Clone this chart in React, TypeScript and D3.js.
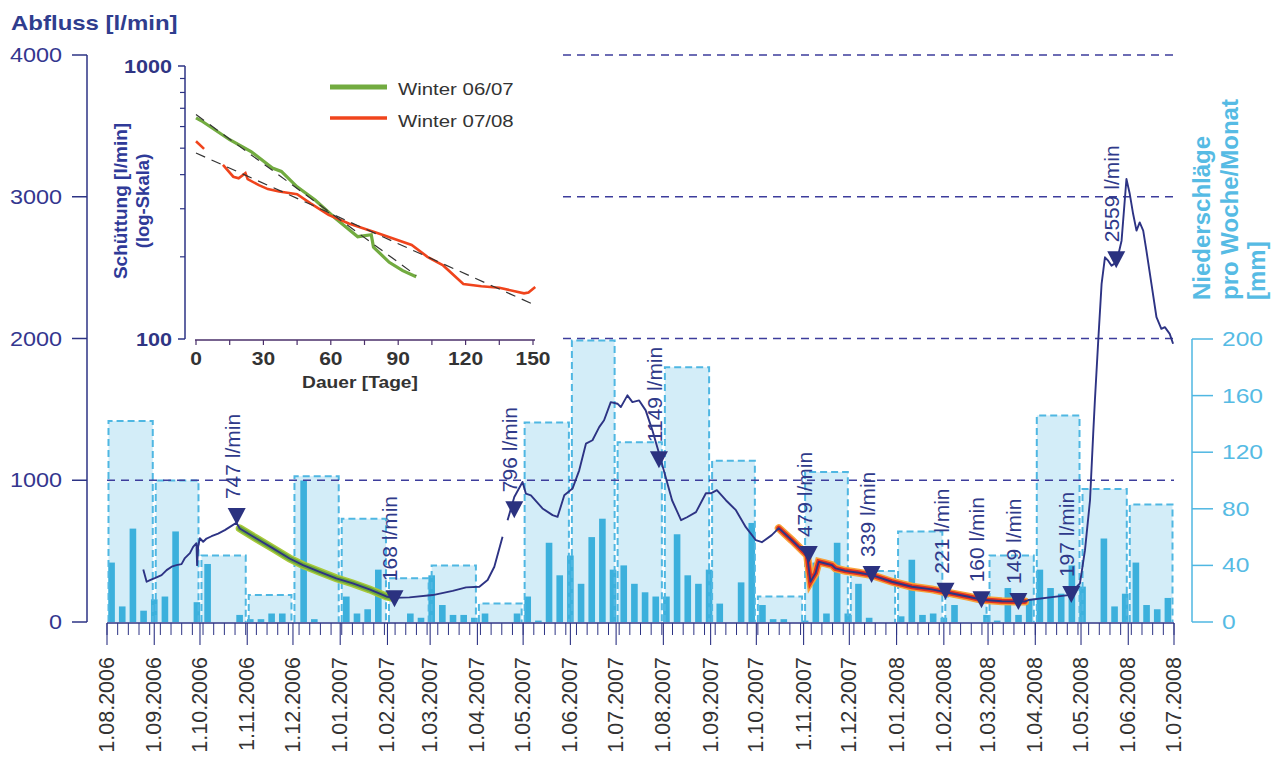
import React from 'react';
import * as d3 from 'd3';

// ---------- DATA ----------
const START = new Date(2006, 7, 1);
const END = new Date(2008, 6, 1);

const monthLabels = [
  '1.08.2006', '1.09.2006', '1.10.2006', '1.11.2006', '1.12.2006', '1.01.2007',
  '1.02.2007', '1.03.2007', '1.04.2007', '1.05.2007', '1.06.2007', '1.07.2007',
  '1.08.2007', '1.09.2007', '1.10.2007', '1.11.2007', '1.12.2007', '1.01.2008',
  '1.02.2008', '1.03.2008', '1.04.2008', '1.05.2008', '1.06.2008', '1.07.2008',
];

// monthly precipitation [mm], Aug 2006 .. Jun 2008
const monthlyPrecip = [142, 100, 47, 19, 103, 73, 31, 40, 13, 141, 199, 127, 180, 114, 18, 106, 36, 64, 18, 47, 146, 94, 83];

// weekly precipitation [mm], weeks starting 1.08.2006
const weeklyPrecip = [
  42, 11, 66, 8, 16, 18, 64, 0, 14, 41,
  0, 0, 5, 2, 2, 6, 6, 0, 100, 2,
  0, 0, 18, 6, 9, 37, 0, 0, 6, 3,
  33, 12, 5, 5, 3, 6, 0, 0, 6, 18,
  1, 56, 33, 47, 27, 60, 73, 37, 40, 27,
  21, 18, 18, 62, 33, 27, 37, 13, 0, 28,
  70, 12, 2, 2, 0, 1, 42, 6, 56, 6,
  27, 3, 0, 0, 4, 44, 5, 6, 3, 12,
  0, 0, 5, 1, 24, 5, 16, 37, 24, 20,
  40, 25, 0, 59, 11, 20, 42, 12, 9, 17,
];

// discharge [l/min]; day = days since 1.08.2006 (null = data gap)
const flowDay = [
  23.8, 26, 28.2, 31.4, 35.8, 39.1, 42.4, 45.6, 48.9, 51.1, 54.4, 56.5, 58.7, 59.1, 59.8, 60.9,
  63.1, 65.3, 68.6, 72.9, 77.3, 81.7, 84.9, 87.1, 98, 108.9, 119.8, 128.6, 139.5, 150.4, 161.3,
  172.2, 183.2, 187.5, 198.4, 213.7, 226.8, 235.6, 244.3, 249.7, 254.1, 259.5, 261, 262.8, 267.2,
  272.6, 274.8, 278.1, 285.7, 292.3, 295.6, 300, 305.4, 309.8, 314.2, 318.5, 322.9, 326.1, 330.5,
  334.9, 337.1, 341.4, 344.7, 349.1, 353.4, 357.8, 362.2, 366.5, 370.7, 376.6, 380.5, 386.4, 392.9,
  396.2, 400.1, 406, 412.6, 419.1, 425.7, 429.6, 436.1, 440.7, 449.3, 459.3, 461.5, 464.8, 466.9,
  471.3, 475.6, 477.9, 484.4, 493.1, 501.8, 514.9, 528, 541.1, 552.1, 565.2, 573.9, 587, 602.3,
  604.5, 630.7, 638.3, 641.6, 644.9, 647, 648.1, 650.3, 652.5, 654.7, 656.8, 659, 662.3, 665.6,
  668.8, 671, 673.2, 675.4, 677.5, 679.8, 681.9, 685.2, 688.5, 691.7, 694, 697.2, 699.4,
];
const flowValue: (number | null)[] = [
  371, 284, 296, 310, 331, 366, 390, 401, 408, 451, 486, 530, 556, 401, 530, 591,
  566, 589, 605, 624, 648, 678, 700, 660, 589, 519, 448, 401, 354, 308, 272,
  230, 180, 170, 174, 190, 220, 244, 249, 296, 390, 601, null, 718, 882,
  988, 906, 894, 801, 754, 742, 894, 941, 1070, 1258, 1282, 1375, 1423, 1551,
  1540, 1516, 1599, 1551, 1563, 1493, 1352, 1188, 1023, 859, 718, 739, 775, 908,
  908, 930, 859, 789, 669, 577, 563, 613, 662, 577, 472, 284, 343, 425,
  413, 401, 378, 361, 347, 331, 284, 249, 230, 206, 178, 157, 146, 145,
  155, 190, 272, 507, 859, 1329, 1563, 1986, 2385, 2573, 2549, 2514, 2537, 2690,
  3125, 3019, 2878, 2761, 2819, 2761, 2620, 2385, 2150, 2068, 2080, 2033, 1963,
];

// highlighted recession periods (days since 1.08.2006)
const recession0607 = [85, 188];
const recession0708 = [440.7, 602.3];

// annotated discharge values
const markerDay = [85.1, 188.6, 267.2, 362.1, 460.4, 501.6, 550.1, 573.7, 597.9, 632.6, 662.1];
const markerValue = [747, 168, 796, 1149, 479, 339, 221, 160, 149, 197, 2559];

const leftTicks = [0, 1000, 2000, 3000, 4000];
const rightTicks = [0, 40, 80, 120, 160, 200];

// inset: recession curves (day of recession, l/min)
const insetGreenDay = [0, 2.4, 15, 24.5, 34, 38, 45, 53, 62, 72, 78, 79, 86, 92, 98];
const insetGreenVal = [646, 630, 537, 486, 423, 411, 361, 323, 277, 237, 241, 217, 191, 178, 169];
const insetRedDay = [0, 3.6, 8, 12, 16.6, 19, 22, 23, 28, 32, 37, 45, 51, 59, 68, 81, 96, 103, 110, 119, 127, 135, 146, 148, 151];
const insetRedVal: (number | null)[] = [530, 497, null, 434, 393, 388, 405, 385, 366, 354, 347, 339, 314, 285, 265, 244, 221, 200, 186, 159, 156, 154, 147, 148, 155];
const insetFit1Day = [0, 98];
const insetFit1Val = [664, 171];
const insetFit2Day = [0, 151];
const insetFit2Val = [480, 133];
const insetXTicks = [0, 30, 60, 90, 120, 150];
const insetLegend = ['Winter 06/07', 'Winter 07/08'];

// ---------- COMPONENT ----------
const FONT = 'Liberation Sans, Arial, Helvetica, sans-serif';
const NAVY = '#2d3384';
const NAVY_TXT = '#34378f';
const CYAN = '#4fb7e2';
const CYAN_TXT = '#56bbe4';
const DAY = 86400000;
const SX = 1.2; // horizontal stretch of the scanned lettering
const dayToDate = (d: number) => new Date(START.getTime() + d * DAY);
const st = (x: number, y: number) => `translate(${x},${y}) scale(${SX},1)`;

export default function App() {
  const x = d3.scaleTime().domain([START, END]).range([107, 1174]);
  const yL = d3.scaleLinear().domain([0, 4000]).range([622, 55]);
  const yR = d3.scaleLinear().domain([0, 200]).range([622, 339]);

  const flow = flowDay.map((d, i) => ({ date: dayToDate(d), day: d, v: flowValue[i] }));
  const line = d3
    .line<{ date: Date; v: number | null }>()
    .defined((d) => d.v != null)
    .x((d) => x(d.date))
    .y((d) => yL(d.v as number));
  const seg = (r: number[]) => flow.filter((d) => d.day >= r[0] && d.day <= r[1]);

  const months = d3.timeMonth.range(START, d3.timeMonth.offset(END, 1));
  const weeks = d3.range(0, 101).map((i) => dayToDate(i * 7));
  const weekW = x(dayToDate(7)) - x(START);

  // inset scales
  const xi = d3.scaleLinear().domain([0, 150]).range([196, 533]);
  const yi = d3.scaleLog().domain([100, 1000]).range([339, 66]);
  const iline = d3
    .line<[number, number | null]>()
    .defined((d) => d[1] != null)
    .x((d) => xi(d[0]))
    .y((d) => yi(d[1] as number));
  const zip = (a: number[], b: (number | null)[]) => a.map((d, i) => [d, b[i]] as [number, number | null]);
  const minorLog = [200, 300, 400, 500, 600, 700, 800, 900];

  return (
    <svg
      width={1277}
      height={760}
      style={{ position: 'absolute', left: 0, top: 0, background: '#fff' }}
      fontFamily={FONT}
    >
      <rect width={1277} height={760} fill="#fff" />

      {/* title */}
      <text transform={st(11, 30)} fontSize={20} fontWeight="bold" fill="#2f3d8e">
        Abfluss [l/min]
      </text>

      {/* monthly precipitation boxes (fill) */}
      {monthlyPrecip.map((v, i) => {
        const x0 = x(months[i]) + 1.5;
        const x1 = x(months[i + 1]) - 1.5;
        return <rect key={'mf' + i} x={x0} y={yR(v)} width={x1 - x0} height={yR(0) - yR(v)} fill="#d3edf8" />;
      })}

      {/* weekly precipitation bars */}
      {weeklyPrecip.map((v, i) => {
        const cx = x(dayToDate(i * 7 + 3));
        const w = weekW * 0.62;
        return <rect key={'wb' + i} x={cx - w / 2} y={yR(v)} width={w} height={yR(0) - yR(v)} fill="#3cb0dc" />;
      })}

      {/* monthly box outlines */}
      {monthlyPrecip.map((v, i) => {
        const x0 = x(months[i]) + 1.5;
        const x1 = x(months[i + 1]) - 1.5;
        return (
          <path
            key={'mo' + i}
            d={`M${x0},${yR(0)}V${yR(v)}H${x1}V${yR(0)}`}
            fill="none"
            stroke={CYAN}
            strokeWidth={2}
            strokeDasharray="7,4"
          />
        );
      })}

      {/* dashed grid lines */}
      {leftTicks
        .filter((t) => t > 0)
        .map((t) => (
          <line
            key={'g' + t}
            x1={t === 1000 ? 107 : 563}
            x2={1174}
            y1={yL(t)}
            y2={yL(t)}
            stroke="#3d3d9c"
            strokeWidth={1.3}
            strokeDasharray="8,6"
          />
        ))}

      {/* left axis */}
      <line x1={87} x2={87} y1={yL(4000)} y2={yL(0)} stroke={NAVY} strokeWidth={1.5} />
      {leftTicks.map((t) => (
        <g key={'lt' + t}>
          <line x1={72} x2={87} y1={yL(t)} y2={yL(t)} stroke={NAVY} strokeWidth={1.5} />
          <text transform={st(62, yL(t) + 7)} fontSize={19.5} textAnchor="end" fill={NAVY_TXT}>
            {t}
          </text>
        </g>
      ))}

      {/* right axis */}
      <line x1={1192} x2={1192} y1={yR(200)} y2={yR(0)} stroke={CYAN} strokeWidth={1.5} />
      {rightTicks.map((t) => (
        <g key={'rt' + t}>
          <line x1={1192} x2={1213} y1={yR(t)} y2={yR(t)} stroke={CYAN} strokeWidth={1.5} />
          <text transform={st(1222, yR(t) + 7)} fontSize={20.5} fill={CYAN_TXT}>
            {t}
          </text>
        </g>
      ))}
      {['Niederschläge', 'pro Woche/Monat', '[mm]'].map((s, i) => (
        <text
          key={'rtt' + i}
          transform={`translate(${[1210, 1238, 1265][i]},300) rotate(-90)`}
          fontSize={24}
          fontWeight="bold"
          fill={CYAN_TXT}
        >
          {s}
        </text>
      ))}

      {/* x axis */}
      <line x1={107} x2={1174} y1={623} y2={623} stroke={NAVY} strokeWidth={1.3} />
      {weeks
        .filter((d) => d <= END)
        .map((d, i) => (
          <line key={'wt' + i} x1={x(d)} x2={x(d)} y1={623} y2={635} stroke={NAVY} strokeWidth={1} />
        ))}
      {months.slice(0, 24).map((d, i) => (
        <g key={'mt' + i}>
          <line x1={x(d)} x2={x(d)} y1={623} y2={645} stroke={NAVY} strokeWidth={1.1} />
          <text
            transform={`translate(${x(d) + 7},657) rotate(-90)`}
            fontSize={21.5}
            textAnchor="end"
            fill="#333"
          >
            {monthLabels[i]}
          </text>
        </g>
      ))}

      {/* discharge: highlights */}
      <path d={line(seg(recession0607)) || ''} fill="none" stroke="#a9c93a" strokeWidth={8} strokeLinecap="round" />
      <path d={line(seg(recession0607)) || ''} fill="none" stroke="#6da83c" strokeWidth={5} strokeLinecap="round" />
      <path d={line(seg(recession0708)) || ''} fill="none" stroke="#f7a23a" strokeWidth={8} strokeLinecap="round" />
      <path d={line(seg(recession0708)) || ''} fill="none" stroke="#e5321f" strokeWidth={5} strokeLinecap="round" />
      {/* discharge line */}
      <path d={line(flow) || ''} fill="none" stroke={NAVY} strokeWidth={1.9} strokeLinejoin="round" />

      {/* markers */}
      {markerDay.map((d, i) => {
        const cx = x(dayToDate(d));
        const cy = yL(markerValue[i]);
        return (
          <g key={'mk' + i}>
            <path d={`M${cx - 9},${cy - 8}L${cx + 9},${cy - 8}L${cx},${cy + 9}Z`} fill="#2b3280" />
            <text
              transform={`translate(${cx + 3},${cy - 17}) rotate(-90)`}
              fontSize={21}
              fill="#2f3a8a"
            >
              {markerValue[i]} l/min
            </text>
          </g>
        );
      })}

      {/* ---------- INSET ---------- */}
      <line x1={185} x2={185} y1={yi(1000)} y2={yi(100)} stroke={NAVY} strokeWidth={1.5} />
      {[100, 1000].map((t) => (
        <g key={'iy' + t}>
          <line x1={178} x2={185} y1={yi(t)} y2={yi(t)} stroke={NAVY} strokeWidth={1.5} />
          <text transform={st(172, yi(t) + 7)} fontSize={18} fontWeight="bold" textAnchor="end" fill="#2f3584">
            {t}
          </text>
        </g>
      ))}
      {minorLog.map((t) => (
        <line key={'iym' + t} x1={180} x2={185} y1={yi(t)} y2={yi(t)} stroke={NAVY} strokeWidth={1.2} />
      ))}
      <line x1={195} x2={535} y1={340} y2={340} stroke="#4a2f6a" strokeWidth={1.5} />
      {d3.range(0, 151, 15).map((t) => (
        <line key={'ixm' + t} x1={xi(t)} x2={xi(t)} y1={340} y2={345} stroke="#4a2f6a" strokeWidth={1.2} />
      ))}
      {insetXTicks.map((t) => (
        <text key={'ix' + t} transform={st(xi(t), 365)} fontSize={17.5} fontWeight="bold" textAnchor="middle" fill="#333">
          {t}
        </text>
      ))}
      <text transform={st(360, 388)} fontSize={16} fontWeight="bold" textAnchor="middle" fill="#333">
        Dauer [Tage]
      </text>
      <text transform="translate(127,201) rotate(-90)" fontSize={19} fontWeight="bold" textAnchor="middle" fill="#2f3a98">
        Schüttung [l/min]
      </text>
      <text transform="translate(149,201) rotate(-90)" fontSize={18.5} fontWeight="bold" textAnchor="middle" fill="#2f3a98">
        (log-Skala)
      </text>

      <path d={iline(zip(insetGreenDay, insetGreenVal)) || ''} fill="none" stroke="#72ab40" strokeWidth={3.2} />
      <path d={iline(zip(insetRedDay, insetRedVal)) || ''} fill="none" stroke="#f0441c" strokeWidth={2.6} />
      <path d={iline(zip(insetFit1Day, insetFit1Val)) || ''} fill="none" stroke="#333" strokeWidth={1.2} strokeDasharray="10,7" />
      <path d={iline(zip(insetFit2Day, insetFit2Val)) || ''} fill="none" stroke="#333" strokeWidth={1.2} strokeDasharray="10,7" />

      {insetLegend.map((s, i) => (
        <g key={'lg' + i}>
          <line x1={330} x2={387} y1={87 + i * 31} y2={87 + i * 31} stroke={i === 0 ? '#72ab40' : '#f0441c'} strokeWidth={i === 0 ? 5 : 3.5} />
          <text transform={st(398, 95 + i * 32)} fontSize={17} fill="#333">
            {s}
          </text>
        </g>
      ))}
    </svg>
  );
}
